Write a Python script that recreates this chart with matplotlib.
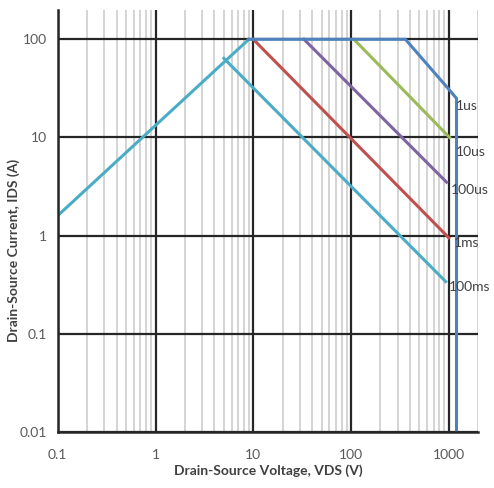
import numpy as np
import matplotlib.pyplot as plt
from matplotlib.ticker import FixedLocator, NullFormatter, LogLocator

plt.rcParams['font.family'] = ['Lato', 'DejaVu Sans']

# Safe operating area curves, VDS (V) vs IDS (A)
vds_dc = [9, 360, 1000, 1200, 1200]
ids_dc = [100, 100, 31, 25, 0.01]

vds_rise = [0.1, 9]
ids_rise = [1.6, 100]

vds_10us = [107, 1020]
ids_10us = [100, 10]

vds_100us = [33, 950]
ids_100us = [100, 3.5]

vds_1ms = [10, 1000]
ids_1ms = [100, 0.95]

vds_100ms = [5, 930]
ids_100ms = [64, 0.34]

pulse_labels = ['1us', '10us', '100us', '1ms', '100ms']
label_vds = [1180, 1170, 1040, 1120, 1010]
label_ids = [21, 7.1, 2.9, 0.85, 0.3]

x_ticks = [0.1, 1, 10, 100, 1000]
y_ticks = [0.01, 0.1, 1, 10, 100]

c_blue = '#4F81BD'
c_red = '#C0504D'
c_green = '#9BBB59'
c_purple = '#8064A2'
c_cyan = '#4BACC6'

fig = plt.figure(figsize=(4.94, 4.88), dpi=100)
ax = fig.add_axes([0.117, 0.115, 0.851, 0.865])
ax.set_xscale('log')
ax.set_yscale('log')
ax.set_xlim(0.1, 2000)
ax.set_ylim(0.01, 200)

# grid: light minor verticals, dark majors
ax.xaxis.set_minor_locator(LogLocator(base=10, subs=np.arange(2, 10)))
ax.xaxis.set_minor_formatter(NullFormatter())
ax.yaxis.set_minor_formatter(NullFormatter())
ax.grid(True, which='minor', axis='x', color='#c9c9c9', lw=1.1)
ax.grid(True, which='major', color='#262626', lw=1.6)
ax.set_axisbelow(True)

lw = 2.2
ax.plot(vds_rise, ids_rise, color=c_cyan, lw=lw)
ax.plot(vds_100ms, ids_100ms, color=c_cyan, lw=lw)
ax.plot(vds_1ms, ids_1ms, color=c_red, lw=lw)
ax.plot(vds_100us, ids_100us, color=c_purple, lw=lw)
ax.plot(vds_10us, ids_10us, color=c_green, lw=lw)
ax.plot(vds_dc, ids_dc, color=c_blue, lw=lw)

for lab, xv, yv in zip(pulse_labels, label_vds, label_ids):
    ax.text(xv, yv, lab, fontsize=10, color='#404040', ha='left', va='center')

ax.xaxis.set_major_locator(FixedLocator(x_ticks))
ax.yaxis.set_major_locator(FixedLocator(y_ticks))
ax.set_xticklabels([f'{v:g}' for v in x_ticks])
ax.set_yticklabels([f'{v:g}' for v in y_ticks])
ax.tick_params(which='both', length=0, labelsize=10, labelcolor='#595959', pad=8)
ax.tick_params(axis='x', pad=12)

for side in ['top', 'right']:
    ax.spines[side].set_visible(False)
for side in ['left', 'bottom']:
    ax.spines[side].set_color('#262626')
    ax.spines[side].set_linewidth(1.8)

ax.set_xlabel('Drain-Source Voltage, VDS (V)', fontsize=10, fontweight='bold',
              color='#404040', labelpad=3)
ax.set_ylabel('Drain-Source Current, IDS (A)', fontsize=10, fontweight='bold',
              color='#404040')
ax.yaxis.set_label_coords(-0.09, 0.43)

plt.savefig('out.png', dpi=100)
